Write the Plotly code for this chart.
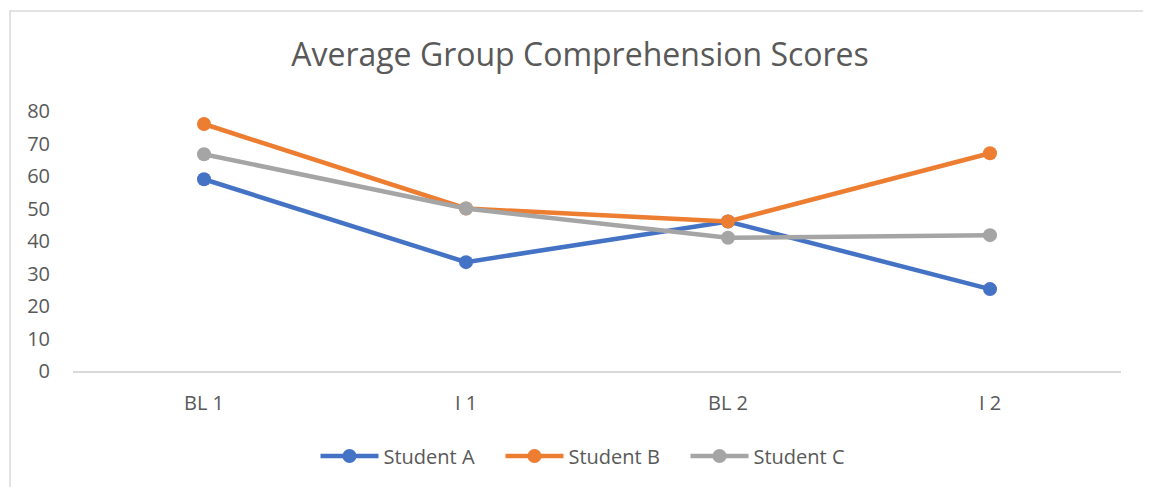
import plotly.graph_objects as go

categories = ["BL 1", "I 1", "BL 2", "I 2"]
student_a = [59, 33.5, 46, 25.2]
student_b = [76, 50, 46, 67]
student_c = [66.7, 50, 41, 41.8]
series_names = ["Student A", "Student B", "Student C"]
colors = ["#4472C4", "#ED7D31", "#A5A5A5"]
y_ticks = [0, 10, 20, 30, 40, 50, 60, 70, 80]

# page body has an 8px margin; figure is sized to fill the remaining window
W, H = 1143, 479
PL, PR, PT, PB = 65, 1113, 103, 363  # plot area in figure pixels

fig = go.Figure()
for name, vals, col in zip(series_names, [student_a, student_b, student_c], colors):
    fig.add_trace(go.Scatter(
        x=categories, y=vals, name=name, mode="lines+markers",
        line=dict(color=col, width=4.5),
        marker=dict(color=col, size=14),
    ))

font_fam = "Open Sans, Noto Sans, sans-serif"
pw, ph = PR - PL, PB - PT
fig.update_layout(
    width=W, height=H,
    margin=dict(l=PL, r=W - PR, t=PT, b=H - PB, pad=0),
    paper_bgcolor="white", plot_bgcolor="white",
    font=dict(family=font_fam, color="#595959", size=20),
    title=dict(text="Average Group Comprehension Scores", x=(572 - PL) / pw, xref="paper",
               xanchor="center", y=1 - 47 / H, yanchor="middle",
               font=dict(size=32, color="#595959", family=font_fam)),
    xaxis=dict(showgrid=False, showline=True, linecolor="#D9D9D9", linewidth=1.5,
               ticks="", range=[-0.5, 3.5], zeroline=False,
               ticklabelstandoff=13, tickfont=dict(size=20)),
    yaxis=dict(range=[0, 80], tickvals=y_ticks, showgrid=False, zeroline=False,
               showline=False, ticks="", ticklabelstandoff=22,
               tickfont=dict(size=20)),
    legend=dict(orientation="h", x=(585 - PL) / pw, xanchor="center",
                y=(PB - 448) / ph, yanchor="middle",
                font=dict(size=20, color="#595959"), itemwidth=58,
                entrywidth=112, traceorder="normal"),
    shapes=[dict(type="rect", xref="paper", yref="paper",
                 x0=(2 - PL) / pw, x1=(1142 - PL) / pw,
                 y0=(PB - 520) / ph, y1=(PB - 3) / ph,
                 line=dict(color="#D9D9D9", width=1.5), layer="below")],
)

fig.write_html("out.html")
